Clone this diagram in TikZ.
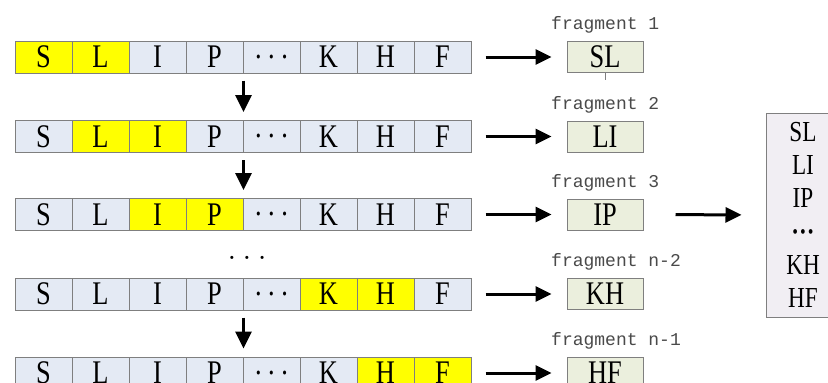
\documentclass[tikz,border=0pt]{standalone}
\usepackage{fontspec}
\setmainfont{Liberation Serif}
\newfontfamily\cellfont[FakeStretch=0.8]{Liberation Serif}
\newfontfamily\labfont{Liberation Mono}
\usetikzlibrary{arrows.meta}
\definecolor{cellblue}{HTML}{E4EAF4}
\definecolor{cellline}{HTML}{7F7F7F}
\definecolor{hlyellow}{HTML}{FFFF00}
\definecolor{fraggreen}{HTML}{EBEFDD}
\definecolor{biglilac}{HTML}{F1EEF3}
\definecolor{labgray}{HTML}{4A4A4A}
\begin{document}
\begin{tikzpicture}[x=1pt,y=-1pt,
  cell/.style={draw=cellline, line width=1pt, minimum width=57pt, minimum height=32pt,
    inner sep=0pt, font=\cellfont\fontsize{33}{33}\selectfont},
  frag/.style={draw=cellline, line width=1pt, fill=fraggreen, minimum width=76pt,
    minimum height=31pt, inner sep=0pt, font=\cellfont\fontsize{33}{33}\selectfont},
  lab/.style={font=\labfont\fontsize{18}{18}\selectfont, text=labgray, anchor=west, inner sep=0pt},
  bigarrow/.style={-{Triangle[length=16pt,width=15pt]}, line width=3pt},
  downarrow/.style={-{Triangle[length=17pt,width=16pt]}, line width=3pt}
]
\useasboundingbox (0,0) rectangle (828,383);
\fill[white] (0,0) rectangle (828,383);

% rows of cells
\foreach \r/\y/\a in {1/57/1,2/136.5/2,3/214.5/3,4/294/6,5/373/7}{
  \foreach \i/\t in {1/S,2/L,3/I,4/P,5/{.\ .\ .},6/K,7/H,8/F}{
    \pgfmathtruncatemacro\ishl{or(\i==\a,\i==\a+1)}
    \ifnum\ishl=1 \def\cf{hlyellow}\else\def\cf{cellblue}\fi
    \node[cell, fill=\cf] (c\r-\i) at ({43.5+57*(\i-1)},\y) {\t};
  }
}

% fragment boxes and labels
\foreach \r/\y/\t/\l in {1/57/SL/1,2/136.5/LI/2,3/214.5/IP/3,4/294/KH/n-2,5/373/HF/n-1}{
  \node[frag] (f\r) at (605,\y) {\t};
  \node[lab] (l\r) at (551,\y-32) {fragment \l};
  \draw[bigarrow, shorten <=14pt, shorten >=15pt] (c\r-8.east) -- (f\r.west);
}
\draw[cellline, line width=0.8pt] (f1.south) -- ++(0,7);

% down arrows
\draw[downarrow, shorten <=7pt, shorten >=8pt] (c1-4.south east) -- (c2-4.north east);
\draw[downarrow, shorten <=7pt, shorten >=8pt] (c2-4.south east) -- (c3-4.north east);
\draw[downarrow, shorten <=7pt, shorten >=8pt] (c4-4.south east) -- (c5-4.north east);
\node[font=\fontsize{26}{26}\selectfont, inner sep=0pt] (dots) at (247,261) {\textperiodcentered\ \textperiodcentered\ \textperiodcentered};

% result box
\node[draw=cellline, line width=1pt, fill=biglilac, minimum width=74pt, minimum height=204pt,
  inner sep=0pt, align=center, font=\cellfont\fontsize{29}{33.3}\selectfont] (big) at (803,215)
  {SL\\LI\\IP\\\textbf{\textperiodcentered\textperiodcentered\textperiodcentered}\\KH\\HF};
\draw[bigarrow, shorten <=32pt, shorten >=24pt] (f3.east) -- (big.west);
\end{tikzpicture}
\end{document}
